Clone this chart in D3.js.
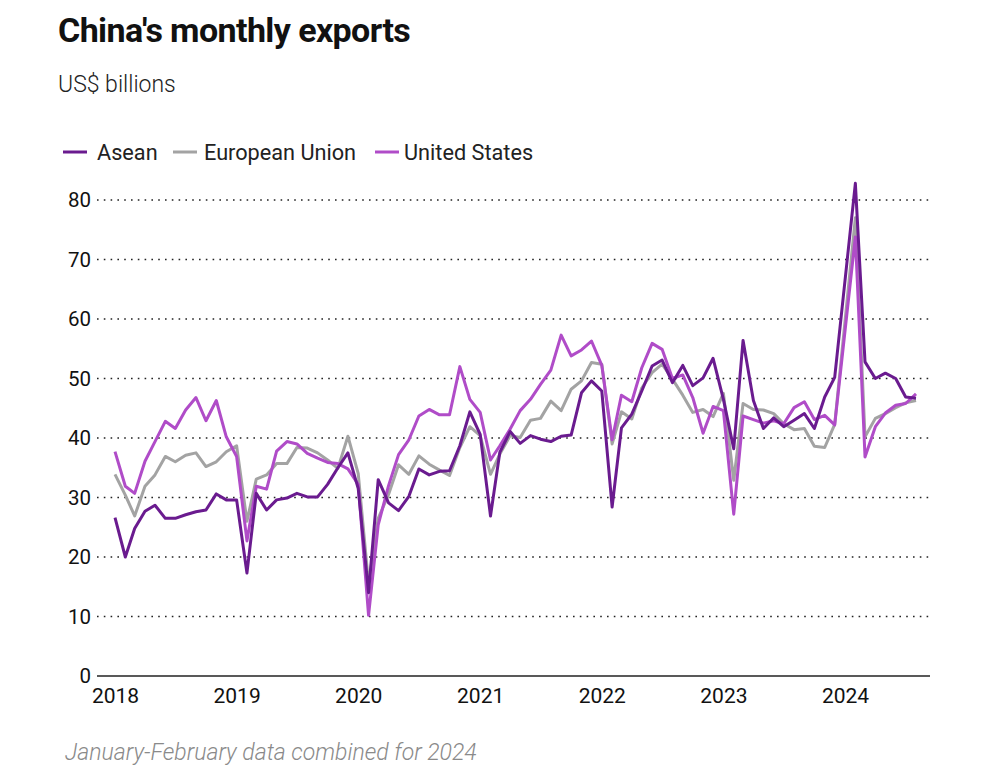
<!DOCTYPE html>
<html>
<head>
<meta charset="utf-8">
<script src="https://cdn.jsdelivr.net/npm/d3@7"></script>
<style>
  html, body { margin: 0; padding: 0; background: #fff; }
  svg { display: block; font-family: Roboto, "Noto Sans", sans-serif; }
</style>
</head>
<body>
<svg id="chart" width="1000" height="778"></svg>
<script>
// ---------- data ----------
const startMonth = "2018-01";
const endMonth = "2024-08";
const seriesNames = ["Asean", "European Union", "United States"];
// null = January 2024 (combined with February)
const asean = [
  26.6, 20.0, 24.8, 27.7, 28.7, 26.5, 26.5, 27.1, 27.6, 27.9, 30.6, 29.6,
  29.6, 17.3, 30.7, 27.9, 29.6, 29.9, 30.7, 30.1, 30.1, 32.2, 35.0, 37.5,
  31.5, 14.0, 33.0, 29.1, 27.8, 30.2, 34.8, 33.8, 34.4, 34.5, 38.7, 44.4,
  40.6, 26.9, 37.6, 41.1, 39.1, 40.4, 39.8, 39.4, 40.3, 40.5, 47.6, 49.6,
  47.9, 28.4, 41.7, 44.0, 47.9, 52.1, 53.1, 49.3, 52.2, 48.8, 50.1, 53.4,
  46.5, 38.2, 56.4, 46.3, 41.6, 43.4, 41.9, 43.0, 44.1, 41.6, 46.9, 50.2,
  null, 82.8, 52.8, 50.0, 50.9, 50.0, 46.9, 46.7
];
const europeanUnion = [
  33.9, 30.4, 26.9, 31.9, 33.8, 36.9, 36.0, 37.1, 37.5, 35.2, 36.0, 37.7,
  38.7, 26.0, 33.1, 33.8, 35.7, 35.7, 38.4, 38.3, 37.5, 36.3, 34.9, 40.3,
  34.0, 15.5, 26.5, 30.5, 35.5, 33.9, 37.0, 35.6, 34.6, 33.7, 38.4, 41.9,
  40.4, 33.9, 37.3, 40.4, 40.1, 43.0, 43.3, 46.2, 44.6, 48.2, 49.6, 52.7,
  52.4, 39.0, 44.4, 43.2, 48.4, 51.0, 52.4, 49.9, 47.2, 44.3, 44.8, 43.6,
  47.5, 32.9, 45.8, 44.8, 44.7, 44.1, 42.4, 41.4, 41.6, 38.6, 38.4, 42.3,
  null, 77.0, 40.2, 43.3, 44.1, 45.1, 45.9, 46.3
];
const unitedStates = [
  37.7, 31.9, 30.7, 36.1, 39.4, 42.8, 41.6, 44.7, 46.8, 42.9, 46.3, 40.2,
  36.9, 22.7, 31.9, 31.4, 37.8, 39.4, 39.0, 37.4, 36.6, 35.9, 35.7, 34.8,
  32.2, 10.2, 25.4, 32.0, 37.2, 39.7, 43.7, 44.8, 43.9, 43.9, 52.0, 46.5,
  44.3, 36.3, 38.7, 41.5, 44.6, 46.5, 49.0, 51.4, 57.3, 53.8, 54.8, 56.3,
  52.2, 39.7, 47.2, 46.1, 51.8, 55.9, 54.9, 50.0, 50.6, 46.8, 40.8, 45.3,
  44.6, 27.2, 43.7, 43.1, 42.5, 42.9, 42.4, 45.1, 46.1, 43.1, 43.8, 42.2,
  null, 73.8, 36.8, 41.9, 44.2, 45.5, 45.8, 47.4
];
const yTicks = [0, 10, 20, 30, 40, 50, 60, 70, 80];
const xTickYears = [2018, 2019, 2020, 2021, 2022, 2023, 2024];
const colors = ["#6a1b8f", "#a3a3a3", "#b04cc8"];

// ---------- build ----------
const parse = d3.timeParse("%Y-%m");
const months = d3.timeMonth.range(parse(startMonth), d3.timeMonth.offset(parse(endMonth), 1));
const seriesValues = [asean, europeanUnion, unitedStates];
const series = seriesNames.map((name, k) => ({
  name, color: colors[k],
  points: months.map((d, i) => ({ date: d, value: seriesValues[k][i] })).filter(p => p.value != null)
}));

const svg = d3.select("#chart");
const plotLeft = 97, plotRight = 930;
const x = d3.scaleTime().domain([months[0], months[months.length - 1]]).range([115, 916]);
const y = d3.scaleLinear().domain([0, 80]).range([676, 200]);

// title / subtitle
svg.append("text").attr("x", 58).attr("y", 42)
  .attr("font-size", 34).attr("font-weight", 700).attr("fill", "#111")
  .attr("letter-spacing", -0.6)
  .text("China's monthly exports");
svg.append("text").attr("x", 58).attr("y", 92)
  .attr("font-size", 23).attr("font-weight", 300).attr("fill", "#222")
  .text("US$ billions");

// legend
const legendSwatchX = [63, 173, 375];
const legendTextX = [97, 204, 404];
series.forEach((s, k) => {
  svg.append("line").attr("x1", legendSwatchX[k]).attr("x2", legendSwatchX[k] + 24)
    .attr("y1", 152).attr("y2", 152)
    .attr("stroke", s.color).attr("stroke-width", 3);
  svg.append("text").attr("x", legendTextX[k]).attr("y", 160)
    .attr("font-size", 21.7).attr("fill", "#222").text(s.name);
});

// gridlines
svg.append("g").selectAll("line").data(yTicks.filter(t => t > 0)).join("line")
  .attr("x1", plotLeft).attr("x2", plotRight)
  .attr("y1", d => y(d)).attr("y2", d => y(d))
  .attr("stroke", "#222").attr("stroke-width", 1.6)
  .attr("stroke-dasharray", "1.6,5.2");

// y axis labels
const yAxis = svg.append("g").attr("transform", `translate(${plotLeft - 6},0)`)
  .call(d3.axisLeft(y).tickValues(yTicks).tickSize(0).tickPadding(0));
yAxis.select(".domain").remove();
yAxis.selectAll("text").attr("font-size", 20.5).attr("fill", "#111")
  .attr("font-family", "Roboto, sans-serif");

// baseline
svg.append("line").attr("x1", plotLeft).attr("x2", plotRight)
  .attr("y1", y(0)).attr("y2", y(0))
  .attr("stroke", "#222").attr("stroke-width", 1.6);

// x axis labels
const xAxis = svg.append("g").attr("transform", `translate(0,${y(0)})`)
  .call(d3.axisBottom(x).tickValues(xTickYears.map(yr => new Date(yr, 0, 1)))
    .tickFormat(d3.timeFormat("%Y")).tickSize(0).tickPadding(12));
xAxis.select(".domain").remove();
xAxis.selectAll("text").attr("font-size", 21).attr("fill", "#111")
  .attr("font-family", "Roboto, sans-serif");

// lines (EU, US, then Asean on top)
const line = d3.line().x(d => x(d.date)).y(d => y(d.value)).curve(d3.curveLinear);
[1, 2, 0].forEach(k => {
  svg.append("path").datum(series[k].points)
    .attr("fill", "none").attr("stroke", series[k].color)
    .attr("stroke-width", 3).attr("stroke-linejoin", "round")
    .attr("d", line);
});

// footnote
svg.append("text").attr("x", 65).attr("y", 760)
  .attr("font-size", 23).attr("font-style", "italic").attr("font-weight", 300)
  .attr("fill", "#8a8a8a")
  .text("January-February data combined for 2024");
</script>
</body>
</html>
